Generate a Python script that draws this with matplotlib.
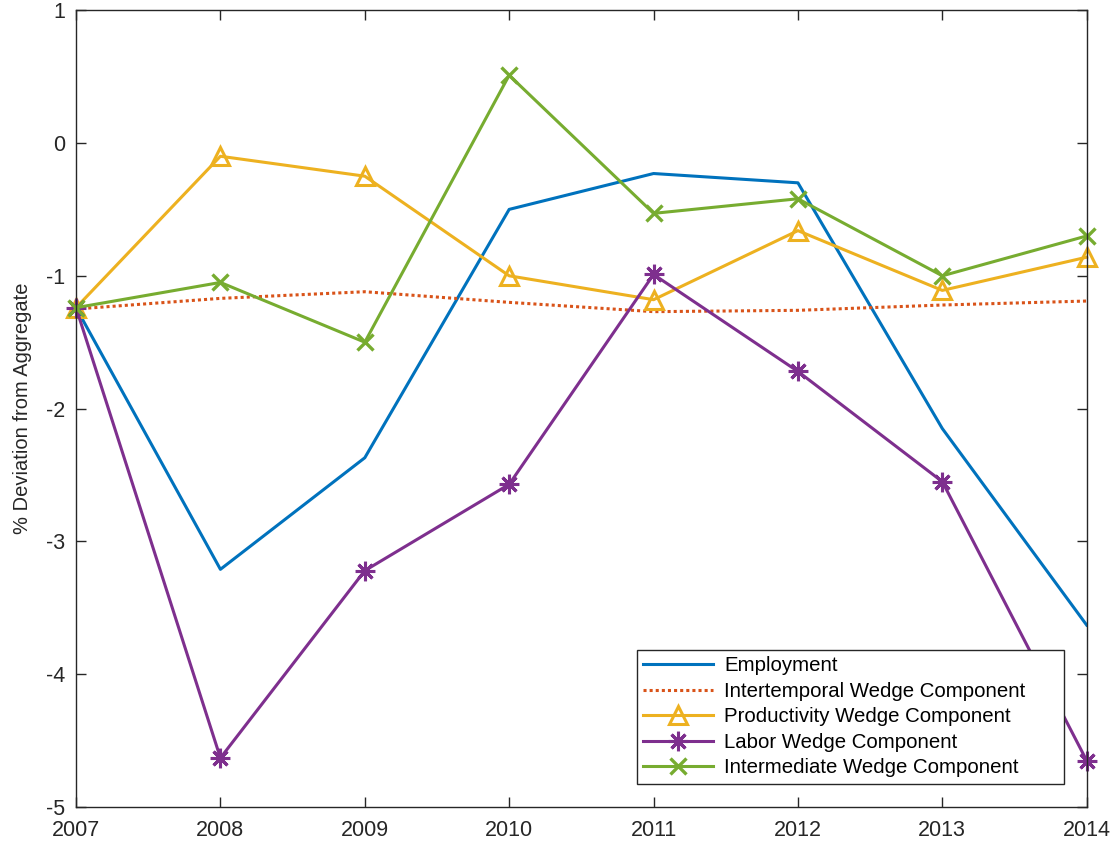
import matplotlib.pyplot as plt

plt.rcParams['font.family'] = ['Liberation Sans', 'DejaVu Sans']
plt.rcParams['axes.unicode_minus'] = False

years = [2007, 2008, 2009, 2010, 2011, 2012, 2013, 2014]
employment = [-1.24, -3.21, -2.37, -0.50, -0.23, -0.30, -2.15, -3.63]
intertemporal = [-1.25, -1.17, -1.12, -1.20, -1.27, -1.26, -1.22, -1.19]
productivity = [-1.24, -0.10, -0.25, -1.00, -1.18, -0.66, -1.11, -0.86]
labor = [-1.24, -4.63, -3.22, -2.57, -0.99, -1.72, -2.55, -4.65]
intermediate = [-1.24, -1.05, -1.50, 0.51, -0.53, -0.42, -1.00, -0.70]

fig = plt.figure(figsize=(11.1, 8.46), dpi=100)
ax = fig.add_axes([0.0685, 0.046, 0.9105, 0.942])

lw = 2.2
ax.plot(years, employment, color="#0072BD", lw=lw, label="Employment")
ax.plot(years, intertemporal, color="#D95319", lw=lw, linestyle=(0, (1, 1)),
        label="Intertemporal Wedge Component")
ax.plot(years, productivity, color="#EDB120", lw=lw, marker="^", markersize=13,
        markerfacecolor="none", markeredgewidth=2.2, clip_on=False,
        label="Productivity Wedge Component")
ax.plot(years, labor, color="#7E2F8E", lw=lw, marker=(8, 2, 0), markersize=14,
        markeredgewidth=2.2, clip_on=False, label="Labor Wedge Component")
ax.plot(years, intermediate, color="#77AC30", lw=lw, marker="x", markersize=12,
        markeredgewidth=2.4, clip_on=False, label="Intermediate Wedge Component")

ax.set_xlim(2007, 2014)
ax.set_ylim(-5, 1)
ax.set_xticks(years)
ax.set_yticks([-5, -4, -3, -2, -1, 0, 1])
ax.set_ylabel("% Deviation from Aggregate", fontsize=14.5, color="#262626",
              labelpad=10)
ax.tick_params(direction="in", length=7.5, width=1, top=True, right=True,
               labelsize=15.5, colors="#262626")
ax.tick_params(axis="y", pad=8)
ax.tick_params(axis="x", pad=9)
for s in ax.spines.values():
    s.set_color("#262626")
    s.set_linewidth(1)

# legend box spans the same area as in the original figure
leg = ax.legend(loc="lower left", bbox_to_anchor=(0.555, 0.029, 0.4224, 0.2),
                mode="expand", fontsize=14.7, fancybox=False, framealpha=1,
                handlelength=3.4, labelspacing=0.32, borderpad=0.32,
                handletextpad=0.55, borderaxespad=0)
leg.get_frame().set_edgecolor("#262626")
leg.get_frame().set_linewidth(1)

fig.savefig("out.png", dpi=100)
